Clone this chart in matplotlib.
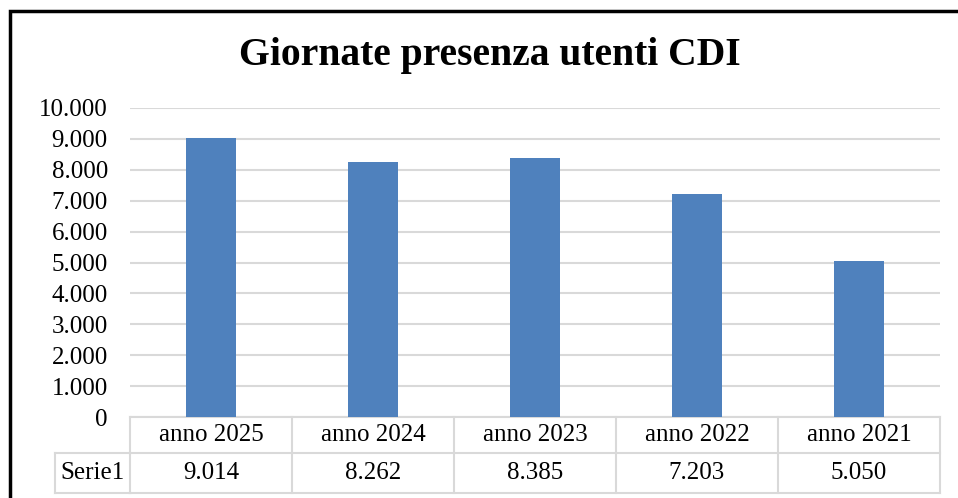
import matplotlib.pyplot as plt
from matplotlib.patches import Rectangle
from matplotlib.lines import Line2D
import matplotlib.transforms as mtrans

categories = ['anno 2025', 'anno 2024', 'anno 2023', 'anno 2022', 'anno 2021']
values = [9014, 8262, 8385, 7203, 5050]
series_name = 'Serie1'
yticks = [0, 1000, 2000, 3000, 4000, 5000, 6000, 7000, 8000, 9000, 10000]


def fmt(v):
    return '{:,}'.format(v).replace(',', '.')


plt.rcParams['font.family'] = ['Liberation Serif', 'DejaVu Serif']

W, H = 958, 498
fig = plt.figure(figsize=(W / 100, H / 100), dpi=100)

def fx(px):
    return px / W

def fy(py):
    return 1 - py / H

grid_col = '#D9D9D9'
fs = 18
ax = fig.add_axes([fx(130), fy(417), fx(940) - fx(130), fy(108) - fy(417)])
x = range(len(categories))
ax.bar(x, values, width=0.31, color='#4F81BD', zorder=3)
ax.set_xlim(-0.5, len(categories) - 0.5)
ax.set_ylim(0, 10000)
ax.set_yticks(yticks)
ax.set_yticklabels([fmt(v) for v in yticks], fontsize=fs)
ax.tick_params(axis='y', length=0, pad=16)
ax.set_xticks([])
ax.grid(axis='y', color=grid_col, lw=1.5, zorder=0)
for s in ax.spines.values():
    s.set_visible(False)

# data table below the plot
tr = mtrans.blended_transform_factory(ax.transData, fig.transFigure)
y0, y1, y2 = fy(417), fy(453), fy(493)
lw = 1.5
edges = [i - 0.5 for i in range(len(categories) + 1)]
for y in (y0, y1, y2):
    ax.add_line(Line2D([edges[0], edges[-1]], [y, y], transform=tr, color=grid_col, lw=lw, clip_on=False))
for e in edges:
    ax.add_line(Line2D([e, e], [y0, y2], transform=tr, color=grid_col, lw=lw, clip_on=False))
# row label cell
fig.add_artist(Line2D([fx(55), fx(130)], [y1, y1], color=grid_col, lw=lw))
fig.add_artist(Line2D([fx(55), fx(130)], [y2, y2], color=grid_col, lw=lw))
fig.add_artist(Line2D([fx(55), fx(55)], [y1, y2], color=grid_col, lw=lw))

for i, (c, v) in enumerate(zip(categories, values)):
    ax.text(i, (y0 + y1) / 2, c, transform=tr, ha='center', va='center', fontsize=fs)
    ax.text(i, (y1 + y2) / 2, fmt(v), transform=tr, ha='center', va='center', fontsize=fs)
fig.text(fx(92), (y1 + y2) / 2, series_name, ha='center', va='center', fontsize=fs)

fig.text(fx(490), fy(56), 'Giornate presenza utenti CDI', ha='center', va='center',
         fontsize=28.5, fontweight='bold')

# chart border (cut off at right and bottom)
fig.add_artist(Rectangle((fx(10), -0.1), 1.2, fy(11) + 0.1, fill=False, ec='black', lw=2.5))

fig.savefig('out.png', dpi=100)
